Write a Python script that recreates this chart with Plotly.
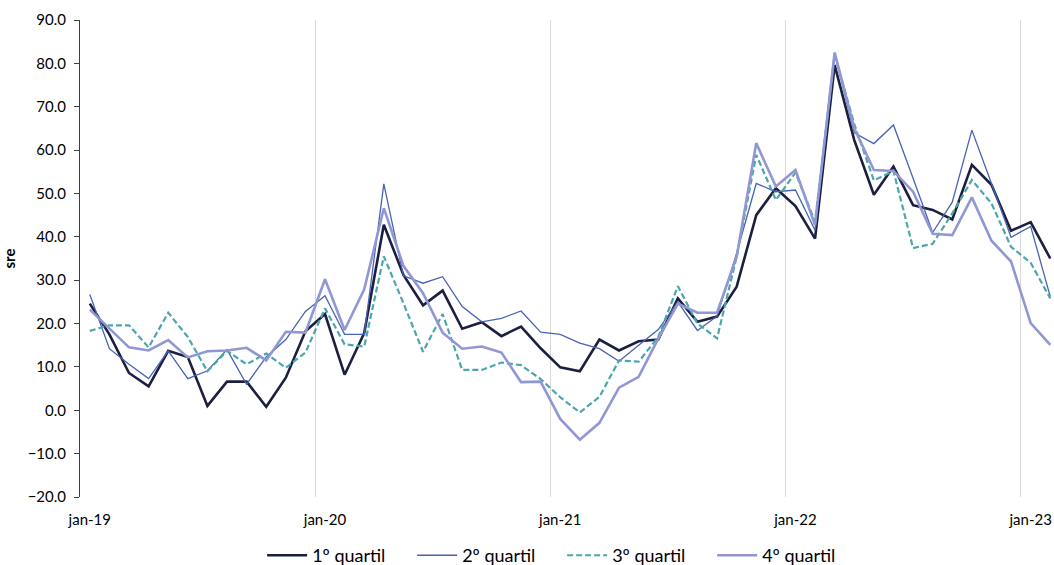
import plotly.graph_objects as go

months_pt = ["jan", "fev", "mar", "abr", "mai", "jun", "jul", "ago", "set", "out", "nov", "dez"]
categories = [f"{m}-{y}" for y in ["19", "20", "21", "22", "23"] for m in months_pt][:50]

q1 = [24.6, 17.5, 8.6, 5.5, 13.7, 12.3, 1.0, 6.6, 6.6, 0.8,
      7.5, 18.2, 22.2, 8.2, 17.8, 42.8, 31.2, 24.2, 27.6, 18.8,
      20.3, 17.1, 19.3, 14.3, 9.9, 9.0, 16.3, 13.8, 15.9, 16.3,
      25.8, 20.4, 21.6, 28.5, 45.0, 51.2, 47.1, 39.6, 79.6, 62.3,
      49.7, 56.2, 47.3, 46.2, 44.0, 56.6, 52.0, 41.4, 43.4, 35.0]
q2 = [26.7, 14.2, 10.6, 7.3, 13.7, 7.3, 9.1, 14.0, 6.0, 12.3,
      16.3, 22.8, 26.4, 17.5, 17.5, 52.2, 31.0, 29.3, 30.8, 23.9,
      20.4, 21.2, 22.9, 18.0, 17.5, 15.5, 14.2, 11.3, 15.0, 18.6,
      25.0, 18.4, 21.7, 36.2, 52.3, 50.4, 50.8, 41.5, 82.3, 64.0,
      61.5, 65.8, 53.5, 41.0, 48.0, 64.6, 52.3, 39.9, 42.4, 26.2]
q3 = [18.3, 19.6, 19.6, 14.5, 22.5, 16.9, 9.0, 13.7, 10.6, 13.1,
      9.8, 13.3, 23.5, 15.2, 14.7, 35.5, 24.7, 13.5, 22.2, 9.3,
      9.3, 11.0, 10.4, 7.2, 3.0, -0.5, 3.1, 11.5, 11.2, 16.9,
      28.6, 20.0, 16.6, 35.4, 58.9, 48.5, 54.8, 43.5, 82.0, 66.0,
      53.0, 55.2, 37.4, 38.4, 45.4, 53.1, 47.7, 37.7, 34.0, 25.8]
q4 = [23.2, 18.8, 14.5, 13.8, 16.2, 12.2, 13.6, 13.8, 14.4, 11.5,
      18.1, 17.9, 30.2, 18.5, 27.9, 46.6, 33.3, 27.0, 17.9, 14.2,
      14.7, 13.3, 6.5, 6.6, -2.0, -6.8, -2.9, 5.2, 7.7, 16.5,
      24.6, 22.5, 22.5, 35.4, 61.6, 51.6, 55.4, 42.7, 82.5, 65.0,
      55.4, 55.2, 50.4, 40.7, 40.4, 49.1, 39.1, 34.3, 20.1, 15.1]

series_names = ["1º quartil", "2º quartil", "3º quartil", "4º quartil"]
series_values = [q1, q2, q3, q4]
colors = ["#1C1F3F", "#4763B3", "#4CA6AC", "#9097D4"]
widths = [2.6, 1.3, 2.2, 2.6]
dashes = ["solid", "solid", "6px,3px", "solid"]

FONT = "Lato, Carlito, 'Open Sans', sans-serif"

fig = go.Figure()
for name, vals, c, w, d in zip(series_names, series_values, colors, widths, dashes):
    fig.add_trace(go.Scatter(x=categories, y=vals, mode="lines", name=name,
                             line=dict(color=c, width=w, dash=d)))

fig.update_layout(
    width=1054, height=565,
    margin=dict(l=80, r=0, t=20, b=68, autoexpand=False),
    paper_bgcolor="white", plot_bgcolor="white",
    font=dict(family=FONT, size=15, color="#000000"),
    showlegend=True,
    legend=dict(orientation="h", x=0.187, xanchor="left", y=-0.084, yanchor="top",
                font=dict(size=18, family=FONT), itemwidth=40,
                entrywidth=95, entrywidthmode="pixels", traceorder="normal"),
)
fig.update_xaxes(
    type="category", categoryorder="array", categoryarray=categories,
    tickmode="linear", tick0=0, dtick=12, tickson="boundaries",
    showgrid=True, gridcolor="#D9D9D9", gridwidth=1,
    showline=False, ticks="", zeroline=False, tickangle=0, automargin=False,
    ticklabelstandoff=12,
    range=[-0.5, 49.19],
    tickfont=dict(size=15, family=FONT),
)
fig.update_yaxes(
    range=[-20, 90], dtick=10, tick0=0, tickformat=".1f",
    showgrid=False, zeroline=False, automargin=False,
    showline=True, linecolor="#404040", linewidth=1,
    ticks="outside", ticklen=5, tickcolor="#404040",
    ticklabelstandoff=5,
    tickfont=dict(size=15, family=FONT),
    title=dict(text="<b>sre</b>", font=dict(size=15, family=FONT), standoff=8),
)

fig.write_html("out.html", config={"displayModeBar": False},
               post_script="document.body.style.margin='0';document.body.style.overflow='hidden';")
